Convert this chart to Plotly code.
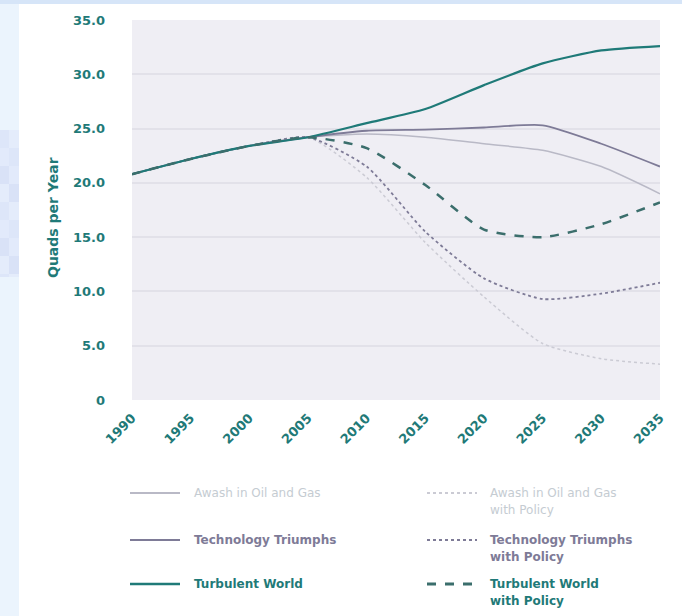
import plotly.graph_objects as go

years = [1990, 1995, 2000, 2005, 2010, 2015, 2020, 2025, 2030, 2035]
hist = [20.8, 22.2, 23.4, 24.2]
awash = hist + [24.5, 24.2, 23.6, 23.0, 21.5, 19.0]
awash_policy = hist + [20.5, 14.5, 9.5, 5.2, 3.8, 3.3]
tech = hist + [24.8, 24.9, 25.1, 25.3, 23.6, 21.5]
tech_policy = hist + [21.5, 15.5, 11.2, 9.3, 9.8, 10.8]
turb = hist + [25.5, 26.8, 29.0, 31.0, 32.2, 32.6]
turb_policy = hist + [23.2, 19.8, 15.7, 15.0, 16.2, 18.2]

yticks = [0, 5, 10, 15, 20, 25, 30, 35]
yticklabels = ["0", "5.0", "10.0", "15.0", "20.0", "25.0", "30.0", "35.0"]

TEAL = "#1f7a78"
TEAL_D = "#3b6e6c"
PURP = "#7e7b97"
LGRAY = "#b9b9c6"
LLGRAY = "#cbcbd4"
LTXT = "#c5ccd2"

W, H = 682, 616
L, R, T, B = 132, 22, 20, 216

def pxx(p):
    return (p - L) / (W - L - R)

def pxy(p):
    return (H - B - p) / (H - T - B)

fig = go.Figure()

# (legend label lines, values, colour, dash, width, text colour, bold, column, row y)
series = [
    (["Awash in Oil and Gas"], awash, LGRAY, "solid", 1.5, LTXT, False, 0, 493),
    (["Awash in Oil and Gas", "with Policy"], awash_policy, LLGRAY, "dot", 1.5, LTXT, False, 1, 493),
    (["Technology Triumphs"], tech, PURP, "solid", 1.8, PURP, True, 0, 540),
    (["Technology Triumphs", "with Policy"], tech_policy, PURP, "dot", 1.8, PURP, True, 1, 540),
    (["Turbulent World"], turb, TEAL, "solid", 2.2, TEAL, True, 0, 584),
    (["Turbulent World", "with Policy"], turb_policy, TEAL_D, "dash", 2.5, TEAL, True, 1, 584),
]

for lines, vals, col, dash, w, tcol, bold, c, ry in series:
    fig.add_trace(go.Scatter(
        x=years, y=vals, mode="lines", name=" ".join(lines),
        line=dict(color=col, width=w, dash=dash, shape="spline", smoothing=0.6),
        hoverinfo="skip", showlegend=False,
    ))
    x0 = 130 if c == 0 else 427
    fig.add_shape(type="line", xref="paper", yref="paper",
                  x0=pxx(x0), x1=pxx(x0 + 50), y0=pxy(ry), y1=pxy(ry),
                  line=dict(color=col, width=w + 0.3, dash=dash))
    tx = 192 if c == 0 else 488
    for i, ln in enumerate(lines):
        txt = f"<b>{ln}</b>" if bold else ln
        fig.add_annotation(xref="paper", yref="paper", x=pxx(tx), y=pxy(ry + 17 * i),
                           xanchor="left", yanchor="middle", text=txt, showarrow=False,
                           font=dict(family="DejaVu Sans", size=12, color=tcol))

# y-axis title
fig.add_annotation(xref="paper", yref="paper", x=pxx(53), y=pxy(218),
                   xanchor="center", yanchor="middle", textangle=-90,
                   text="<b>Quads per Year</b>", showarrow=False,
                   font=dict(family="DejaVu Sans", size=14, color=TEAL))

# background decoration
fig.add_shape(type="rect", xref="paper", yref="paper",
              x0=pxx(0), x1=pxx(19), y0=pxy(H), y1=pxy(0),
              fillcolor="#ebf4fd", line_width=0, layer="below")
fig.add_shape(type="rect", xref="paper", yref="paper",
              x0=pxx(0), x1=pxx(W), y0=pxy(4), y1=pxy(0),
              fillcolor="#d6e5f8", line_width=0, layer="below")
shades = ["#dde6f9", "#e4ecfb", "#d9e2f7", "#e2eafb"]
k = 0
for yy in range(130, 277, 18):
    for xx in (0, 9):
        fig.add_shape(type="rect", xref="paper", yref="paper",
                      x0=pxx(xx), x1=pxx(xx + 10), y0=pxy(min(yy + 18, 277)), y1=pxy(yy),
                      fillcolor=shades[k % 4], line_width=0, layer="below")
        k += 1
    k += 1

fig.update_layout(
    width=W, height=H,
    margin=dict(l=L, r=R, t=T, b=B, pad=0, autoexpand=False),
    paper_bgcolor="white",
    plot_bgcolor="#efeef4",
    font=dict(family="DejaVu Sans", color=TEAL, size=12),
    showlegend=False,
    xaxis=dict(
        range=[1990, 2035], tickmode="array", tickvals=years,
        ticktext=[str(y) for y in years], tickangle=-45,
        tickfont=dict(family="DejaVu Sans", size=13, color=TEAL, weight="bold"),
        showgrid=False, zeroline=False, showline=False, ticks="",
        ticklabelstandoff=7,
    ),
    yaxis=dict(
        range=[0, 35], tickmode="array", tickvals=yticks, ticktext=yticklabels,
        tickfont=dict(family="DejaVu Sans", size=13, color=TEAL, weight="bold"),
        showgrid=True, gridcolor="#e2e1e9", gridwidth=1.5,
        zeroline=False, showline=False, ticks="",
        ticklabelstandoff=26,
    ),
)

fig.write_html("out.html")
